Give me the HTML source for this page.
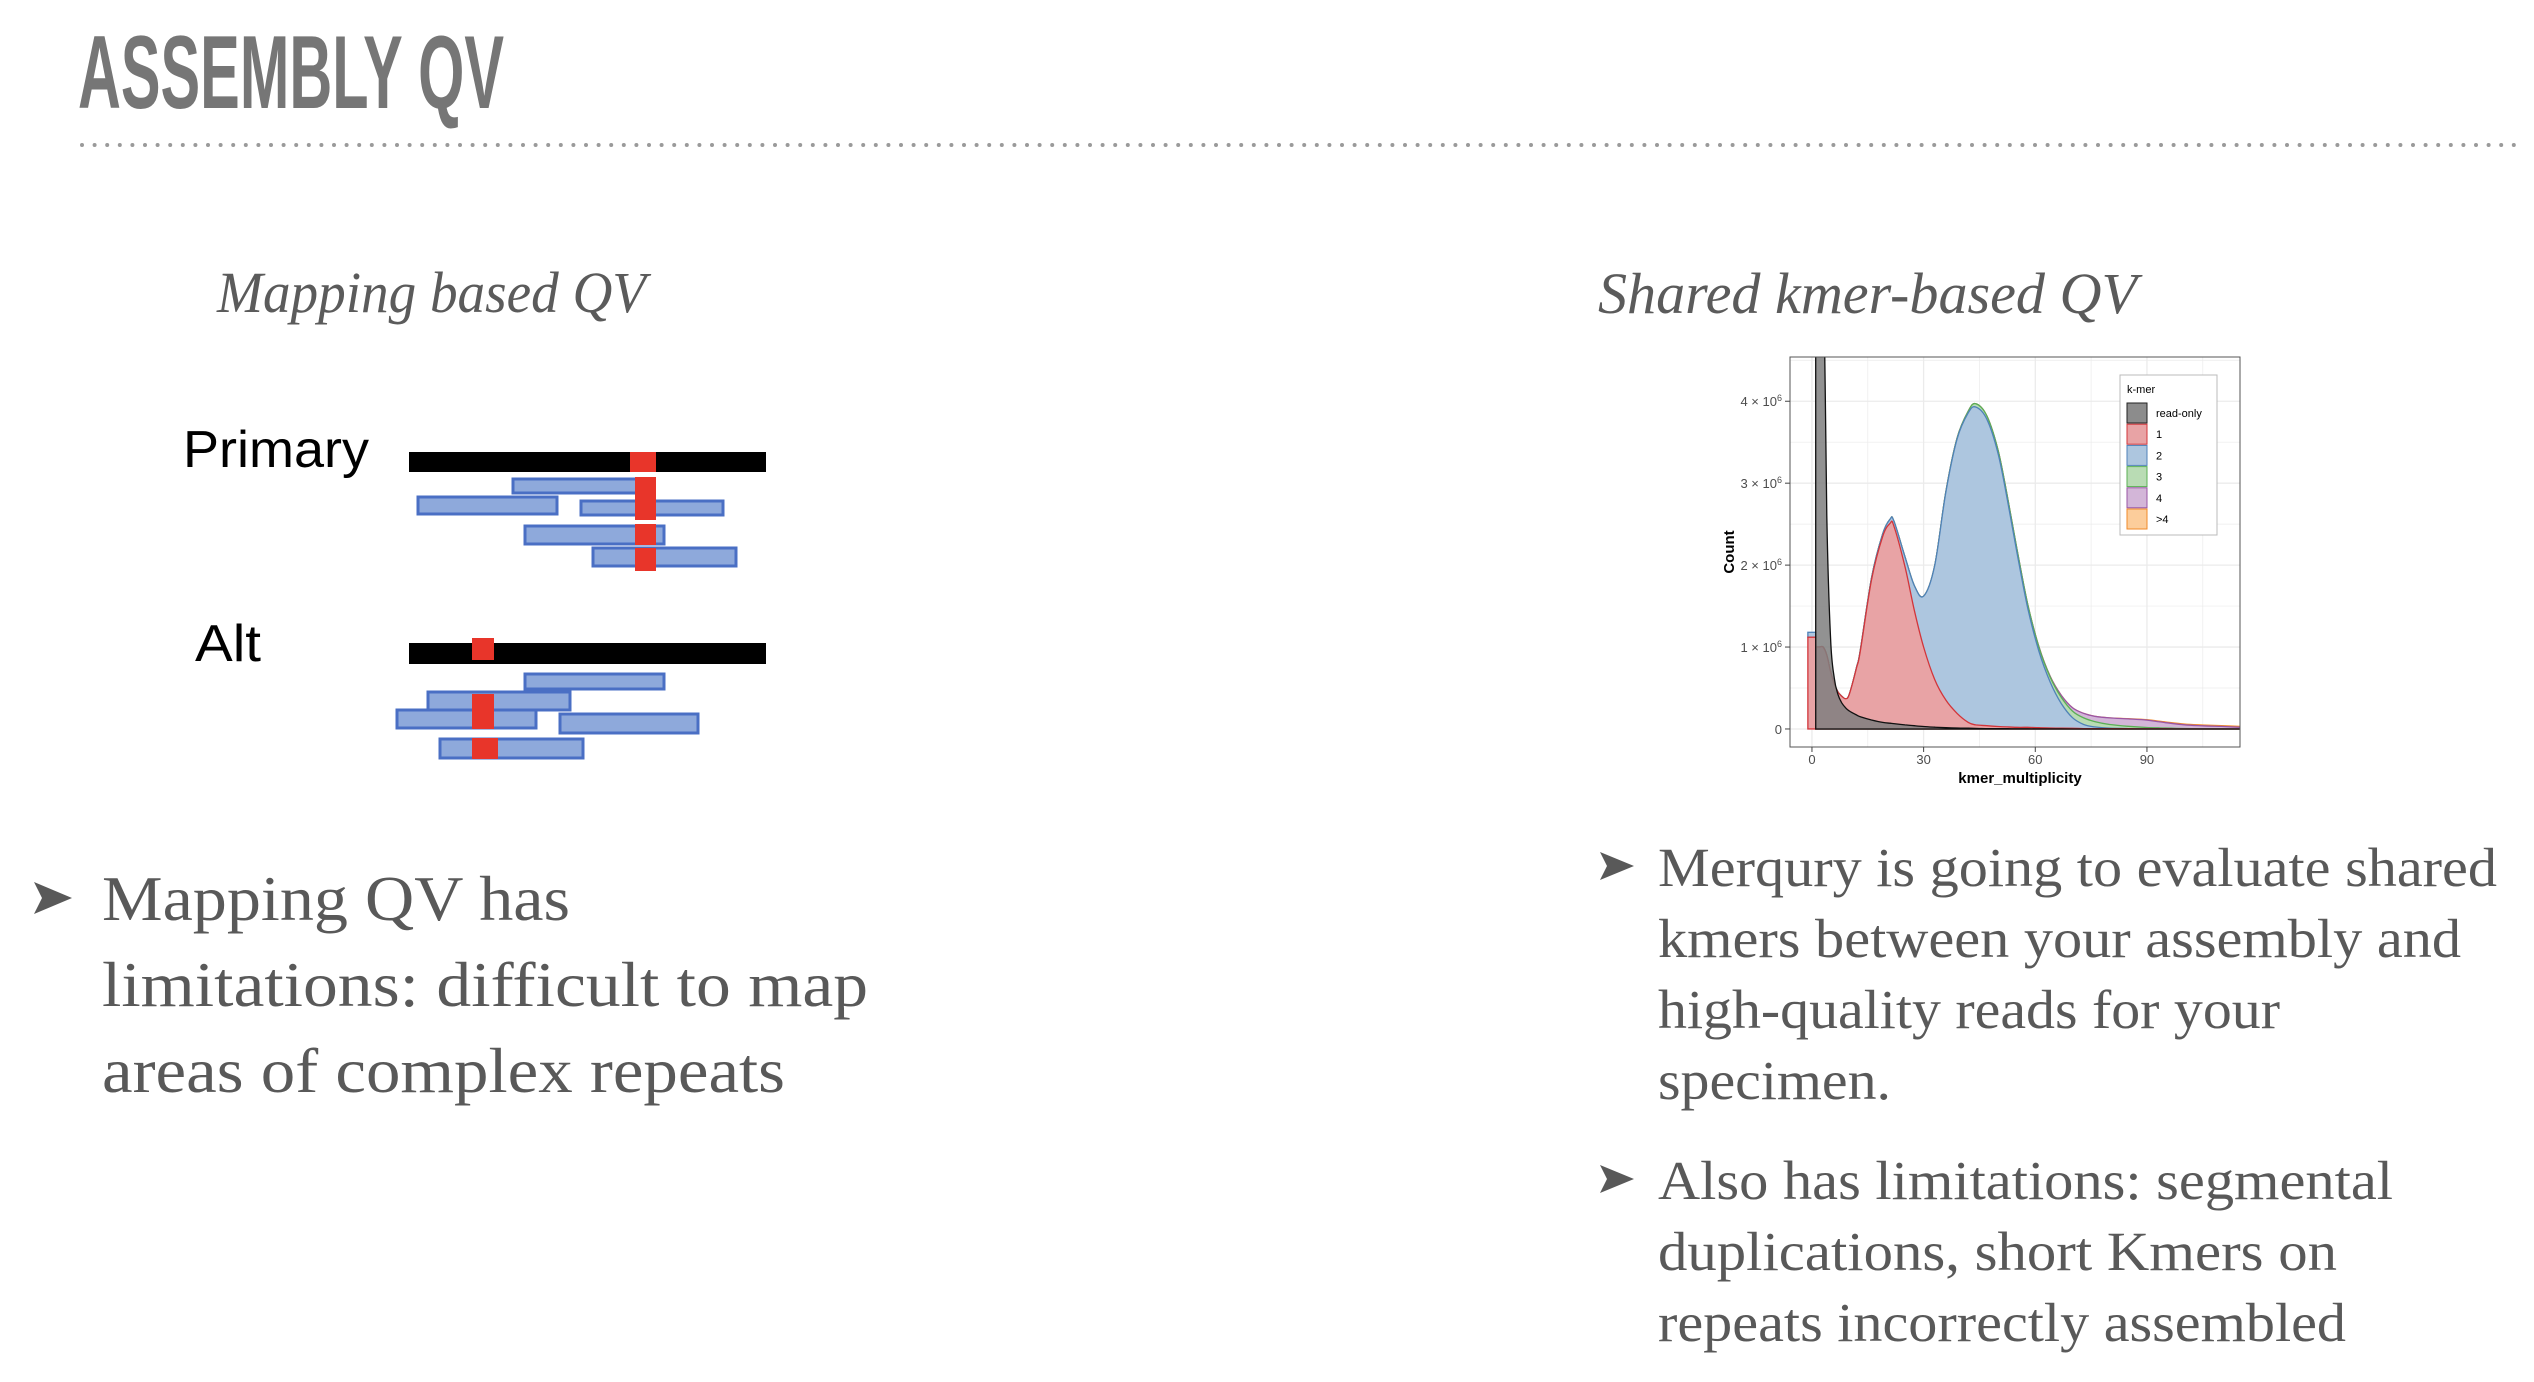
<!DOCTYPE html>
<html><head><meta charset="utf-8">
<style>
html,body{margin:0;padding:0;background:#fff;}
svg{display:block;}
</style></head>
<body>
<svg id="slide" width="2534" height="1382" viewBox="0 0 2534 1382" xmlns="http://www.w3.org/2000/svg">
  <rect x="0" y="0" width="2534" height="1382" fill="#fff"/>
  <text x="78" y="108" font-family="'Liberation Sans Narrow','Liberation Sans',sans-serif" font-weight="bold" font-size="104" fill="#767676" textLength="426" lengthAdjust="spacingAndGlyphs">ASSEMBLY QV</text>
  <g id="dots"></g>

  <text x="217" y="312" font-family="'Liberation Serif',serif" font-style="italic" font-size="58" fill="#5b5b5b" textLength="429" lengthAdjust="spacingAndGlyphs">Mapping based QV</text>
  <text x="1598" y="313" font-family="'Liberation Serif',serif" font-style="italic" font-size="58" fill="#5b5b5b" textLength="539" lengthAdjust="spacingAndGlyphs">Shared kmer-based QV</text>

  <g>
    <text x="183" y="467" font-family="'Liberation Sans',sans-serif" font-size="52" fill="#000" textLength="186" lengthAdjust="spacingAndGlyphs">Primary</text>
    <rect x="409" y="452" width="357" height="20" fill="#000"/>
    <rect x="630" y="452" width="26" height="20" fill="#e8352a"/>
    <g fill="#8ea9db" stroke="#4a6fc4" stroke-width="3">
      <rect x="513" y="479" width="124" height="14"/>
      <rect x="418" y="497" width="139" height="17"/>
      <rect x="581" y="501" width="142" height="14"/>
      <rect x="525" y="526" width="139" height="18"/>
      <rect x="593" y="548" width="143" height="18"/>
    </g>
    <g fill="#e8352a">
      <rect x="635" y="477" width="21" height="43"/>
      <rect x="635" y="524" width="21" height="21"/>
      <rect x="635" y="548" width="21" height="23"/>
    </g>

    <text x="195" y="661" font-family="'Liberation Sans',sans-serif" font-size="52" fill="#000" textLength="66" lengthAdjust="spacingAndGlyphs">Alt</text>
    <rect x="409" y="643" width="357" height="21" fill="#000"/>
    <rect x="472" y="638" width="22" height="22" fill="#e8352a"/>
    <g fill="#8ea9db" stroke="#4a6fc4" stroke-width="3">
      <rect x="525" y="674" width="139" height="15"/>
      <rect x="428" y="692" width="142" height="18"/>
      <rect x="397" y="710" width="139" height="18"/>
      <rect x="560" y="714" width="138" height="19"/>
      <rect x="440" y="739" width="143" height="19"/>
    </g>
    <g fill="#e8352a">
      <rect x="472" y="694" width="22" height="35"/>
      <rect x="472" y="738" width="26" height="21"/>
    </g>
  </g>

  <g font-family="'Liberation Serif',serif" font-size="64" fill="#595959">
    <path d="M34 882 L72 898 L34 914 L42 898 Z" fill="#595959"/>
    <text x="102" y="920" textLength="468" lengthAdjust="spacingAndGlyphs">Mapping QV has</text>
    <text x="102" y="1006" textLength="766" lengthAdjust="spacingAndGlyphs">limitations: difficult to map</text>
    <text x="102" y="1092" textLength="683" lengthAdjust="spacingAndGlyphs">areas of complex repeats</text>
  </g>

  <g font-family="'Liberation Serif',serif" font-size="55" fill="#595959">
    <path d="M1600 852 L1634 866 L1600 880 L1607 866 Z" fill="#595959"/>
    <text x="1658" y="886" textLength="839" lengthAdjust="spacingAndGlyphs">Merqury is going to evaluate shared</text>
    <text x="1658" y="957" textLength="803" lengthAdjust="spacingAndGlyphs">kmers between your assembly and</text>
    <text x="1658" y="1028" textLength="622" lengthAdjust="spacingAndGlyphs">high-quality reads for your</text>
    <text x="1658" y="1099" textLength="233" lengthAdjust="spacingAndGlyphs">specimen.</text>
    <path d="M1600 1165 L1634 1179 L1600 1193 L1607 1179 Z" fill="#595959"/>
    <text x="1658" y="1199" textLength="735" lengthAdjust="spacingAndGlyphs">Also has limitations: segmental</text>
    <text x="1658" y="1270" textLength="679" lengthAdjust="spacingAndGlyphs">duplications, short Kmers on</text>
    <text x="1658" y="1341" textLength="688" lengthAdjust="spacingAndGlyphs">repeats incorrectly assembled</text>
  </g>

  <g id="chart"></g>
</svg>
<script>
// ---- chart data (counts in millions) ----
const kmerX = [1,2,3,4,5,6,7,8,9,10,12,13,16,19,21,22,25,27.5,30,33,36,39,42,44,47,50,52.5,55,58,61,64,67,70,73,76,80,85,90,95,100,105,110,115];
const readOnly = [12,12,7,2.6,1.1,0.62,0.42,0.32,0.26,0.22,0.17,0.15,0.11,0.08,0.07,0.065,0.05,0.04,0.03,0.022,0.016,0.012,0.009,0.007,0.005,0.004,0.003,0.002,0.002,0.001,0.001,0.001,0,0,0,0,0,0,0,0,0,0,0];
const copy1 = [1.0,1.0,1.0,0.9,0.7,0.55,0.45,0.4,0.37,0.42,0.75,0.95,1.82,2.35,2.51,2.48,1.98,1.45,1.0,0.6,0.35,0.19,0.08,0.05,0.04,0.03,0.025,0.02,0.02,0.015,0.012,0.01,0.008,0.005,0.005,0.004,0.003,0.002,0.002,0.001,0.001,0.001,0.001];
const copy2 = [0,0,0,0,0,0,0,0,0,0,0.005,0.01,0.02,0.03,0.05,0.06,0.12,0.3,0.62,1.4,2.55,3.35,3.78,3.88,3.74,3.33,2.77,2.15,1.45,0.93,0.56,0.3,0.13,0.05,0.02,0.006,0.002,0,0,0,0,0,0];
const copy3 = [0,0,0,0,0,0,0,0,0,0,0,0,0,0,0,0,0,0,0,0,0.005,0.01,0.02,0.04,0.04,0.04,0.04,0.04,0.045,0.05,0.06,0.075,0.08,0.08,0.065,0.045,0.028,0.016,0.01,0.005,0.003,0.002,0];
const copy4 = [0,0,0,0,0,0,0,0,0,0,0,0,0,0,0,0,0,0,0,0,0,0,0,0,0,0,0,0,0,0.005,0.01,0.025,0.04,0.055,0.065,0.08,0.09,0.09,0.065,0.045,0.035,0.028,0.02];
const copy5 = [0,0,0,0,0,0,0,0,0,0,0,0,0,0,0,0,0,0,0,0,0,0,0,0,0,0,0,0,0,0,0,0,0,0,0,0,0.002,0.005,0.008,0.01,0.01,0.01,0.01];
const zeroBar = [1.12, 0.06];
const xTicks = [0,30,60,90];
const yTicks = [0,1,2,3,4];
const legendLabels = ['read-only','1','2','3','4','>4'];

const NS = 'http://www.w3.org/2000/svg';
function mk(tag, attrs, parent){ const e=document.createElementNS(NS,tag); for(const k in attrs) e.setAttribute(k,attrs[k]); parent.appendChild(e); return e; }

// dotted divider
const dots = document.getElementById('dots');
for (let x = 82; x <= 2521; x += 12.6) {
  const d = mk('circle',{cx:x.toFixed(1),cy:145,r:2,fill:'#9a9a9a'},dots);
  
  
}

// chart geometry
const P = {l:1790, r:2240, t:357, b:747};
const xMin=-5.9, xMax=115;
const yMin=-0.22, yMax=4.54;
const sx = v => P.l + (v-xMin)/(xMax-xMin)*(P.r-P.l);
const sy = v => P.b - (v-yMin)/(yMax-yMin)*(P.b-P.t);
const chart = document.getElementById('chart');

const clip = mk('clipPath',{id:'pclip'},mk('defs',{},chart));
mk('rect',{x:P.l,y:P.t,width:P.r-P.l,height:P.b-P.t},clip);

const bg = mk('rect',{x:P.l,y:P.t,width:P.r-P.l,height:P.b-P.t,fill:'#fff'},chart);



// gridlines
for (let v=-15; v<=120; v+=15) {
  if (v < xMin || v > xMax) continue;
  const g = mk('line',{x1:sx(v),x2:sx(v),y1:P.t,y2:P.b,stroke:'#ebebeb','stroke-width': v%30===0?1.3:0.7},chart);
  
  
}
for (let v=0; v<=4.5; v+=0.5) {
  const g = mk('line',{x1:P.l,x2:P.r,y1:sy(v),y2:sy(v),stroke:'#ebebeb','stroke-width': Number.isInteger(v)?1.3:0.7},chart);
  
  
}

function smoothPath(xs, ys){
  const pts = xs.map((x,i)=>[sx(x), sy(Math.min(ys[i], 6))]);
  let d = 'M'+sx(xs[0]).toFixed(1)+','+sy(0).toFixed(1)+' L'+pts[0][0].toFixed(1)+','+pts[0][1].toFixed(1);
  for (let i=0;i<pts.length-1;i++){
    const p0=pts[Math.max(i-1,0)], p1=pts[i], p2=pts[i+1], p3=pts[Math.min(i+2,pts.length-1)];
    const c1=[p1[0]+(p2[0]-p0[0])/6, p1[1]+(p2[1]-p0[1])/6];
    const c2=[p2[0]-(p3[0]-p1[0])/6, p2[1]-(p3[1]-p1[1])/6];
    d += ' C'+c1[0].toFixed(1)+','+c1[1].toFixed(1)+' '+c2[0].toFixed(1)+','+c2[1].toFixed(1)+' '+p2[0].toFixed(1)+','+p2[1].toFixed(1);
  }
  d += ' L'+sx(xs[xs.length-1]).toFixed(1)+','+sy(0).toFixed(1)+' Z';
  return d;
}

const plot = mk('g',{'clip-path':'url(#pclip)'},chart);
const layers = [copy1, copy2, copy3, copy4, copy5];
const fills = ['#e8a3a5','#adc6df','#b9dcb4','#d3b6d8','#fccd9b'];
const strokes = ['#d2353a','#4f82b8','#5aaf55','#9a55a5','#f08a2a'];
const layerNames = ['area-copy-1','area-copy-2','area-copy-3','area-copy-4','area-copy-gt4'];
const cum = [];
let acc = kmerX.map(()=>0);
layers.forEach(s=>{ acc = acc.map((a,i)=>a+s[i]); cum.push(acc.slice()); });
for (let k=layers.length-1; k>=0; k--) {
  const p = mk('path',{d:smoothPath(kmerX, cum[k]),fill:fills[k],stroke:strokes[k],'stroke-width':1.3},plot);
  
  
}
// zero-multiplicity bar
const bw = 1.1;
const zb2 = mk('rect',{x:sx(-bw),y:sy(zeroBar[0]+zeroBar[1]),width:sx(bw)-sx(-bw),height:sy(zeroBar[0])-sy(zeroBar[0]+zeroBar[1]),fill:fills[1],stroke:strokes[1],'stroke-width':1.3},plot);


const zb1 = mk('rect',{x:sx(-bw),y:sy(zeroBar[0]),width:sx(bw)-sx(-bw),height:sy(0)-sy(zeroBar[0]),fill:fills[0],stroke:strokes[0],'stroke-width':1.3},plot);


// read-only overlay
const ro = mk('path',{d:smoothPath(kmerX, readOnly),fill:'#7f7f7f','fill-opacity':0.85,stroke:'#111','stroke-width':1.3},plot);



const border = mk('rect',{x:P.l,y:P.t,width:P.r-P.l,height:P.b-P.t,fill:'none',stroke:'#555','stroke-width':1},chart);



// axes ticks & labels
xTicks.forEach(v=>{
  const t = mk('line',{x1:sx(v),x2:sx(v),y1:P.b,y2:P.b+5,stroke:'#444','stroke-width':1},chart);
  
  
  const l = mk('text',{x:sx(v),y:P.b+17,'text-anchor':'middle','font-family':"'Liberation Sans',sans-serif",'font-size':13,fill:'#4d4d4d'},chart);
  l.textContent = String(v);
  
  
});
yTicks.forEach(v=>{
  const t = mk('line',{x1:P.l-5,x2:P.l,y1:sy(v),y2:sy(v),stroke:'#444','stroke-width':1},chart);
  
  
  const l = mk('text',{x:P.l-8,y:sy(v)+5,'text-anchor':'end','font-family':"'Liberation Sans',sans-serif",'font-size':13,fill:'#4d4d4d'},chart);
  if (v===0) l.textContent='0';
  else {
    l.textContent = v+' \u00d7 10';
    const sup = mk('tspan',{dy:-5,'font-size':9},l);
    sup.textContent='6';
  }
  
  
});
const xt = mk('text',{x:(P.l+P.r)/2+5,y:783,'text-anchor':'middle','font-family':"'Liberation Sans',sans-serif",'font-size':15,'font-weight':'bold',fill:'#000'},chart);
xt.textContent='kmer_multiplicity';


const yt = mk('text',{x:0,y:0,'text-anchor':'middle','font-family':"'Liberation Sans',sans-serif",'font-size':15,'font-weight':'bold',fill:'#000',transform:'translate(1734,552) rotate(-90)'},chart);
yt.textContent='Count';



// legend
const lg = mk('g',{},chart);


mk('rect',{x:2120,y:375,width:97,height:160,fill:'#fff',stroke:'#bbb','stroke-width':1},lg);
const lt = mk('text',{x:2127,y:393,'font-family':"'Liberation Sans',sans-serif",'font-size':11,fill:'#000'},lg);
lt.textContent='k-mer';


const keyFills = ['#8c8c8c'].concat(fills);
const keyStrokes = ['#222'].concat(strokes);
legendLabels.forEach((lab,i)=>{
  const cy = 413 + i*21.2;
  const k = mk('rect',{x:2127,y:cy-10,width:20,height:20,fill:keyFills[i],stroke:keyStrokes[i],'stroke-width':1},lg);
  
  
  const t = mk('text',{x:2156,y:cy+4,'font-family':"'Liberation Sans',sans-serif",'font-size':11,fill:'#000'},lg);
  t.textContent = lab;
  
  
});
</script>
</body></html>
